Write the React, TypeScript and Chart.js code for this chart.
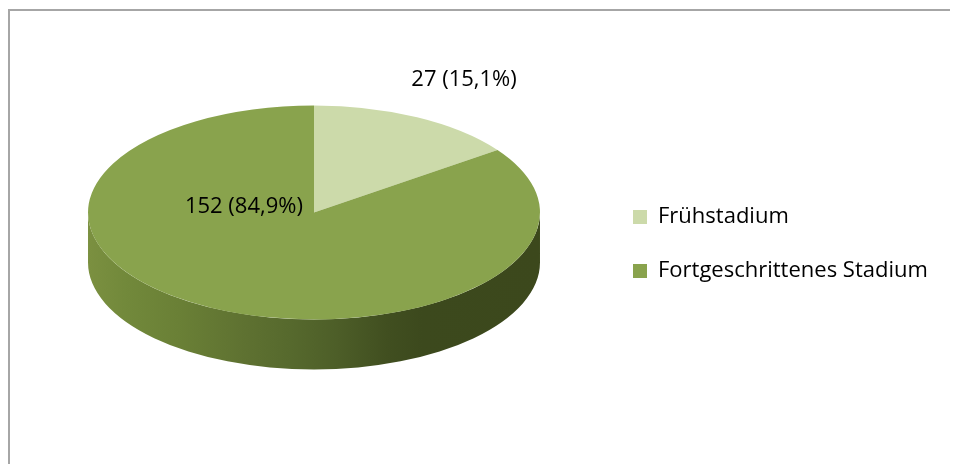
import React, { useEffect, useRef } from 'react';
import { Chart, registerables } from 'chart.js';

Chart.register(...registerables);

// ---- data ----
const categories = ['Frühstadium', 'Fortgeschrittenes Stadium'];
const counts = [27, 152];

// ---- styles ----
const sliceColors = ['#CCDAAA', '#89A34D'];
const sideShades = ['#7B9040', '#72893B', '#6A8036', '#5E7131', '#56692D', '#4D5E28', '#414F20', '#3C491D', '#3C481C'];
const sideStops = [0, 0.08, 0.2, 0.35, 0.45, 0.55, 0.66, 0.74, 1];
// label anchor, in units of the top face's semi-axes, relative to its centre
const labelAnchors = [
  [0.664, -1.238],
  [-0.31, -0.051],
];

const FONT_FAMILY = "'Open Sans', sans-serif";
const FONT_SIZE = 22;
const ASPECT = 2.112; // horizontal stretch of the tilted disc
const DEPTH = 50; // thickness of the disc (px)
const CANVAS_W = 948;
const CANVAS_H = 453;
const BOX = 14;
const LEGEND_PAD = 32;

const total = counts.reduce((a, b) => a + b, 0);
const labelTexts = counts.map(
  (v) => `${v} (${((v / total) * 100).toFixed(1).replace('.', ',')}%)`
);

const pie3d = {
  id: 'pie3d',
  beforeDatasetsDraw(chart: any) {
    const ctx = chart.ctx as CanvasRenderingContext2D;
    const arc = chart.getDatasetMeta(0).data[0];
    if (!arc) return;
    const { x, y, outerRadius: r } = arc.getProps(['x', 'y', 'outerRadius'], true);
    const rx = r * ASPECT;
    const ty = y - DEPTH / 2;
    const by = y + DEPTH / 2;
    ctx.save();
    const g = ctx.createLinearGradient(x - rx, 0, x + rx, 0);
    sideShades.forEach((c, i) => g.addColorStop(sideStops[i], c));
    ctx.beginPath();
    ctx.moveTo(x + rx, ty);
    ctx.lineTo(x + rx, by);
    ctx.ellipse(x, by, rx, r, 0, 0, Math.PI, false);
    ctx.lineTo(x - rx, ty);
    ctx.ellipse(x, ty, rx, r, 0, Math.PI, 0, true);
    ctx.closePath();
    ctx.fillStyle = g;
    ctx.fill();
    ctx.restore();
    // top face: the library's arcs, lifted and stretched
    ctx.save();
    ctx.translate(x, ty);
    ctx.scale(ASPECT, 1);
    ctx.translate(-x, -y);
  },
  afterDatasetsDraw(chart: any) {
    const ctx = chart.ctx as CanvasRenderingContext2D;
    ctx.restore();
    const meta = chart.getDatasetMeta(0);
    const arc = meta.data[0];
    if (!arc) return;
    const { x, y, outerRadius: r } = arc.getProps(['x', 'y', 'outerRadius'], true);
    const rx = r * ASPECT;
    const ty = y - DEPTH / 2;
    ctx.save();
    ctx.font = `${FONT_SIZE}px ${FONT_FAMILY}`;
    ctx.fillStyle = '#000';
    ctx.textAlign = 'center';
    ctx.textBaseline = 'middle';
    meta.data.forEach((_: any, i: number) => {
      const [fx, fy] = labelAnchors[i];
      ctx.fillText(labelTexts[i], x + fx * rx, ty + fy * r);
    });
    ctx.restore();
  },
};

export default function App() {
  const ref = useRef<HTMLCanvasElement | null>(null);

  useEffect(() => {
    document.documentElement.style.overflow = 'hidden';
    document.body.style.overflow = 'hidden';
    const canvas = ref.current;
    if (!canvas) return;
    const m = document.createElement('canvas').getContext('2d')!;
    m.font = `${FONT_SIZE}px ${FONT_FAMILY}`;
    const textW = Math.max(...categories.map((c) => m.measureText(c).width));
    const legendW = LEGEND_PAD + BOX + FONT_SIZE / 2 + textW + 10;
    const legendLeft = 623 - LEGEND_PAD;
    const padRight = Math.max(0, CANVAS_W - legendLeft - legendW);

    const chart = new Chart(canvas, {
      type: 'pie',
      data: {
        labels: categories,
        datasets: [
          {
            data: counts,
            backgroundColor: sliceColors,
            borderWidth: 0,
            hoverBorderWidth: 0,
            offset: 0,
            hoverOffset: 0,
            clip: false,
          } as any,
        ],
      },
      options: {
        responsive: false,
        animation: false,
        events: [],
        layout: {
          padding: { left: 17, right: padRight, top: 119.5, bottom: 119.5 },
        },
        plugins: {
          tooltip: { enabled: false },
          legend: {
            position: 'right',
            align: 'center',
            title: { display: true, text: '', padding: 0, font: { size: 10, lineHeight: 1.3 } },
            labels: {
              boxWidth: BOX,
              boxHeight: BOX,
              padding: LEGEND_PAD,
              color: '#000',
              font: { family: FONT_FAMILY, size: FONT_SIZE },
            },
          },
        },
      },
      plugins: [pie3d],
    });
    return () => chart.destroy();
  }, []);

  return (
    <div style={{ paddingTop: 1, width: 950 }}>
      <div
        style={{
          width: 950,
          height: 455,
          boxSizing: 'border-box',
          borderTop: '2px solid #a6a6a6',
          borderLeft: '2px solid #a6a6a6',
          background: '#fff',
          overflow: 'hidden',
        }}
      >
        <canvas ref={ref} width={CANVAS_W} height={CANVAS_H} style={{ display: 'block' }} />
      </div>
    </div>
  );
}
